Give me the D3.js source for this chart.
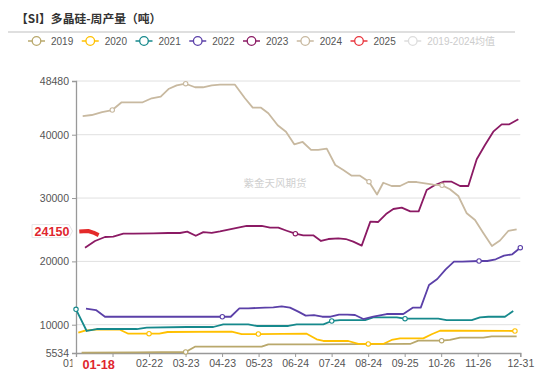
<!doctype html>
<html>
<head>
<meta charset="utf-8">
<title>多晶硅-周产量</title>
<script src="https://cdn.jsdelivr.net/npm/d3@7"></script>
<style>
body { margin: 0; background: #fff; }
text { font-family: "Liberation Sans", Arial, "Noto Sans CJK SC", sans-serif; }
</style>
</head>
<body>
<svg width="550" height="373"></svg>
<script>
// weekly production, [day of year, tons]
var s2019 = [[4.6,5580],[49.9,5640],[90.1,5690],[97.7,6530],[152.5,6530],[158,6910],[193.6,6910],[274.4,6960],[281.2,7480],[300.4,7480],[307.2,7590],[315.5,7950],[334.6,7950],[341.5,8170],[362,8170]]
var s2020 = [[1.9,8740],[7.4,9060],[15.6,9210],[36.1,9210],[43,8580],[60,8580],[68.4,8580],[75.3,8850],[127.9,8900],[136.1,8530],[149.8,8530],[189.5,8580],[197.7,7700],[203.2,7430],[223.7,7430],[231.9,6960],[240.1,6960],[252.4,6960],[259.3,7590],[266.2,7850],[285.3,7850],[292.2,8490],[299,9050],[312.7,9050],[360.6,9010]]
var s2021 = [[0,12430],[8.8,9010],[17,9320],[49.9,9320],[58.1,9530],[90.9,9640],[112.8,9640],[121,10060],[141.5,10060],[148.4,9800],[174.4,9800],[181.3,10060],[203.2,10060],[210.1,10590],[216.9,10740],[237.5,10740],[244.2,11170],[263.5,11170],[270.3,10950],[297.6,10950],[304.5,10740],[325.1,10740],[331.9,11170],[338.7,11260],[352.4,11260],[359.2,12160]]
var s2022 = [[8.2,12530],[16.4,12320],[23.8,11260],[120.2,11260],[127.1,11260],[134.2,12590],[141.5,12590],[155.3,12690],[162.1,12750],[169,12910],[175.8,12690],[182.6,12060],[188.7,11430],[195.5,11530],[202.3,11260],[209.2,11260],[216.1,11580],[222.9,11580],[229.2,11530],[236,10900],[244.2,11260],[255.2,11690],[268.9,11690],[276.6,12690],[283.2,12690],[290,16270],[296.8,17220],[303.7,18750],[310.5,19950],[317.3,19950],[331.1,20060],[337.9,20060],[344.8,20330],[351.6,20900],[358.4,21120],[365,22160]]
var s2023 = [[7.4,22160],[15.6,23220],[23.8,23850],[30.6,23900],[38.9,24370],[47.1,24370],[63.5,24430],[75.8,24480],[85.4,24480],[91.4,24690],[98.4,24040],[104.6,24610],[111.5,24510],[118.3,24750],[129.2,25190],[140.2,25590],[152.6,25590],[159.4,25320],[166.2,25320],[173.1,24840],[180.2,24370],[186.7,24120],[194.9,24120],[201.3,23220],[207.3,23530],[215.5,23640],[221.6,23530],[227.8,23110],[234.7,22480],[241.8,26270],[248.3,26220],[254.7,27480],[260.7,28270],[267.6,28480],[274.6,27900],[281.5,27900],[288.1,31270],[294.9,32060],[302.3,32580],[308.6,32580],[315.5,31900],[322.3,31900],[329.2,36120],[336,38370],[342.8,40480],[349.7,41640],[356,41640],[363.4,42430]]
var s2024 = [[5.5,42950],[12.9,43110],[21.4,43580],[29.8,43900],[37.5,45120],[54.8,45120],[62.2,45750],[69.6,46000],[76.4,47260],[82.7,47800],[90.1,48050],[97.8,47490],[104.3,47490],[111.5,47800],[118.3,47900],[130.6,47900],[138.8,45750],[145.2,44270],[152,44270],[158,43380],[165.7,41490],[172.5,40480],[179.3,38490],[186.2,38850],[193.1,37590],[199,37590],[206,37790],[213,35220],[219.6,34430],[226.5,33530],[233.3,33530],[240.7,32580],[247.3,30560],[252.4,32420],[259.3,31900],[266.2,31900],[273,32530],[279.9,32530],[286.7,32330],[293.5,32110],[300.7,32010],[307.2,31380],[314.1,30320],[321,27590],[327.8,26530],[334.6,24480],[341.7,22430],[348.3,23300],[355.1,24800],[362,25060]]
var s2025 = [[2.7,24700],[10,24800],[14.2,24550],[18.6,24150]]

// days where the hollow symbols show
var m2019 = [90.1, 300.4]
var m2020 = [60, 149.8, 240.1, 360.6]
var m2021 = [0, 210.1, 270.3]
var m2022 = [120.2, 331.1, 365]
var m2023 = [180.2]
var m2024 = [29.8, 90.1, 240.7, 300.7]

var y_ticks = [5534, 10000, 20000, 30000, 40000, 48480]
var x_tick_days = [0, 30, 60, 90, 120, 150, 180, 210, 240, 270, 300, 330, 365]
var x_tick_labels = ["01-01", "01-18", "02-22", "03-23", "04-23", "05-23", "06-24", "07-24", "08-24", "09-25", "10-26", "11-26", "12-31"]
var legend_names = ["2019", "2020", "2021", "2022", "2023", "2024", "2025", "2019-2024均值"]
var pointer_day = "01-18"
var pointer_value = 24150

var colors = ["#b9a86c", "#ffc000", "#16898c", "#5b40a8", "#8b1a64", "#c8b9a0", "#e8343c", "#dddddd"]

var svg = d3.select("svg")
var plot_left = 76, plot_right = 520.3, plot_top = 81, plot_bottom = 353

var x = d3.scaleLinear().domain([0, 365]).range([plot_left, plot_right])
var y = d3.scaleLinear().domain([5534, 48480]).range([plot_bottom, plot_top])

// title
svg.append("text")
    .attr("x", 16).attr("y", 22.5)
    .attr("font-size", "11.8px").attr("font-weight", "bold").attr("fill", "#333")
    .style("font-family", "'Noto Sans CJK SC', sans-serif")
    .text("【SI】多晶硅-周产量（吨）")
svg.append("line")
    .attr("x1", 8).attr("x2", 515).attr("y1", 32).attr("y2", 32)
    .attr("stroke", "#d4d4d4").attr("stroke-width", 1.5)

// legend
var lx = 28
legend_names.forEach(function (name, i) {
    var g = svg.append("g").attr("transform", "translate(" + lx + ",41)")
    g.append("line").attr("x1", 0).attr("x2", 17).attr("y1", 0).attr("y2", 0)
        .attr("stroke", colors[i]).attr("stroke-width", 1.5)
    g.append("circle").attr("cx", 8.5).attr("cy", 0).attr("r", 4.3)
        .attr("fill", "#fff").attr("stroke", colors[i]).attr("stroke-width", 1.3)
    var t = g.append("text").attr("x", 23).attr("y", 3.6)
        .attr("font-size", "10px").attr("fill", i == 7 ? "#cccccc" : "#555")
        .text(name)
    lx += 23 + t.node().getComputedTextLength() + 8.5
})

// grid
svg.selectAll(".grid")
    .data(y_ticks.slice(1))
    .enter().append("line")
    .attr("x1", plot_left).attr("x2", plot_right)
    .attr("y1", function (d) { return y(d) }).attr("y2", function (d) { return y(d) })
    .attr("stroke", "#e0e0e0").attr("stroke-width", 1)

// watermark
svg.append("text")
    .attr("x", 275).attr("y", 187)
    .attr("text-anchor", "middle").attr("font-size", "10.5px").attr("fill", "#d0d0d0")
    .style("font-family", "'Noto Sans CJK SC', sans-serif")
    .text("紫金天风期货")

// axes
var yAxis = svg.append("g")
    .attr("transform", "translate(" + plot_left + ",0)")
    .call(d3.axisLeft(y).tickValues(y_ticks).tickSize(4).tickPadding(3).tickFormat(d3.format("d")))
var xAxis = svg.append("g")
    .attr("transform", "translate(0," + plot_bottom + ")")
    .call(d3.axisBottom(x).tickValues(x_tick_days).tickSize(4).tickPadding(3)
        .tickFormat(function (d, i) { return x_tick_labels[i] }))
;[yAxis, xAxis].forEach(function (a) {
    a.select(".domain").attr("stroke", "#999").attr("stroke-width", 1.3)
    a.selectAll(".tick line").attr("stroke", "#999")
    a.selectAll(".tick text").attr("fill", "#555").attr("font-size", "10.5px")
        .style("font-family", "'Liberation Sans', Arial, sans-serif")
})

// the pointer label sits over the first two tick labels
svg.append("clipPath").attr("id", "first_tick_clip")
    .append("rect").attr("x", -20).attr("y", 0).attr("width", 16).attr("height", 20)
xAxis.selectAll(".tick text")
    .filter(function (d) { return d == x_tick_days[0] })
    .attr("clip-path", "url(#first_tick_clip)")
xAxis.selectAll(".tick text")
    .filter(function (d) { return d == x_tick_days[1] })
    .remove()

// series
var line = d3.line()
    .x(function (d) { return x(d[0]) })
    .y(function (d) { return y(d[1]) })
var series = [s2019, s2020, s2021, s2022, s2023, s2024]
var marks = [m2019, m2020, m2021, m2022, m2023, m2024]
series.forEach(function (s, i) {
    svg.append("path").datum(s)
        .attr("d", line).attr("fill", "none")
        .attr("stroke", colors[i]).attr("stroke-width", 1.8)
        .attr("stroke-linejoin", "round")
})
series.forEach(function (s, i) {
    var pts = s.filter(function (d) { return marks[i].indexOf(d[0]) >= 0 })
    svg.selectAll(null).data(pts).enter().append("circle")
        .attr("cx", function (d) { return x(d[0]) })
        .attr("cy", function (d) { return y(d[1]) })
        .attr("r", 2.2).attr("fill", "#fff")
        .attr("stroke", colors[i]).attr("stroke-width", 1.1)
})
svg.append("path").datum(s2025)
    .attr("d", line).attr("fill", "none")
    .attr("stroke", "#e42a2a").attr("stroke-width", 4)
    .attr("stroke-linejoin", "round")

// axis pointer labels
var px = x(s2025[s2025.length - 1][0])
svg.append("text")
    .attr("x", px).attr("y", 368.5)
    .attr("text-anchor", "middle").attr("font-size", "12.7px").attr("font-weight", "bold")
    .attr("fill", "#e0262e")
    .text(pointer_day)

var py = y(pointer_value) - 4
svg.append("path")
    .attr("d", "M32," + (py - 6.5) + "H69L72.5," + py + "L69," + (py + 6.5) + "H32Z")
    .attr("fill", "#fff").attr("stroke", "#e6e6e6").attr("stroke-width", 1)
svg.append("text")
    .attr("x", 52).attr("y", py + 4.5)
    .attr("text-anchor", "middle").attr("font-size", "12.5px").attr("font-weight", "bold")
    .attr("fill", "#e0262e")
    .text(pointer_value)
</script>
</body>
</html>
